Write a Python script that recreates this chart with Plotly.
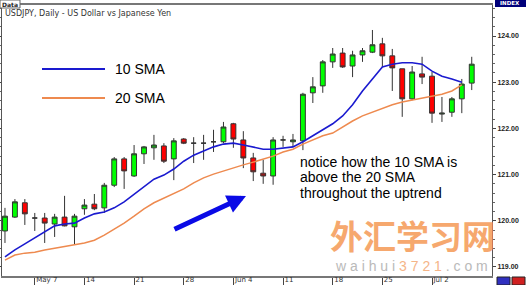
import plotly.graph_objects as go
import pandas as pd

# ---------------- data ----------------
dates = pd.bdate_range("2007-05-02", periods=48).strftime("%Y-%m-%d").tolist()

opens = [119.78, 120.08, 120.39, 120.06, 120.06, 119.93, 120.08, 119.87, 120.26, 120.36,
         120.28, 120.77, 121.34, 120.97, 121.45, 121.58, 121.62, 121.34, 121.77, 121.68,
         121.68, 121.71, 121.71, 122.10, 121.75, 121.36, 121.03, 120.97, 121.75, 121.71,
         121.73, 122.77, 122.92, 123.44, 123.63, 123.35, 123.59, 123.65, 123.83, 123.57,
         123.29, 122.64, 123.18, 123.13, 122.31, 122.35, 122.64, 122.98]
highs = [120.28, 120.47, 120.47, 120.17, 120.17, 120.15, 120.54, 120.15, 120.47, 120.58,
         120.82, 121.38, 121.38, 121.64, 121.62, 121.86, 121.68, 121.79, 121.79, 121.81,
         121.86, 121.97, 122.14, 122.12, 121.94, 121.47, 121.32, 121.81, 121.84, 121.88,
         122.77, 123.11, 123.48, 123.74, 123.74, 123.68, 123.74, 124.13, 123.96, 123.72,
         123.29, 123.35, 123.55, 123.22, 122.68, 122.68, 123.07, 123.55]
lows = [119.52, 120.06, 119.91, 119.78, 119.52, 119.65, 119.88, 119.48, 120.13, 120.23,
        120.17, 120.73, 120.69, 120.95, 121.23, 121.32, 121.25, 120.88, 121.66, 121.25,
        121.32, 121.49, 121.68, 121.58, 121.14, 120.86, 120.80, 120.78, 121.60, 121.60,
        121.53, 122.55, 122.77, 123.31, 123.31, 123.11, 123.44, 123.63, 123.33, 122.81,
        122.25, 122.61, 122.96, 122.12, 122.14, 122.25, 122.33, 122.83]
closes = [120.10, 120.41, 120.15, 120.06, 119.95, 120.08, 119.89, 120.10, 120.34, 120.26,
          120.77, 121.34, 121.08, 121.45, 121.60, 121.64, 121.29, 121.73, 121.68, 121.68,
          121.68, 121.71, 122.03, 121.77, 121.36, 121.06, 120.97, 121.75, 121.75, 121.75,
          122.74, 122.90, 123.44, 123.61, 123.33, 123.59, 123.68, 123.81, 123.57, 123.31,
          122.64, 123.22, 123.11, 122.33, 122.33, 122.64, 122.96, 123.39]

sma10 = [119.22, 119.37, 119.50, 119.63, 119.76, 119.89, 119.93, 119.95, 120.06, 120.15,
         120.19, 120.28, 120.41, 120.58, 120.75, 120.90, 120.99, 121.12, 121.29, 121.42,
         121.51, 121.60, 121.66, 121.68, 121.64, 121.60, 121.55, 121.55, 121.58, 121.60,
         121.71, 121.84, 121.97, 122.10, 122.27, 122.51, 122.81, 123.07, 123.33, 123.39,
         123.42, 123.42, 123.39, 123.24, 123.13, 123.07, 123.00, None]
sma20 = [119.15, 119.26, 119.30, 119.32, 119.37, 119.41, 119.45, 119.48, 119.52, 119.58,
         119.69, 119.82, 119.95, 120.10, 120.26, 120.39, 120.49, 120.58, 120.69, 120.82,
         120.93, 121.01, 121.08, 121.14, 121.21, 121.27, 121.34, 121.40, 121.49, 121.55,
         121.66, 121.75, 121.84, 121.90, 122.03, 122.16, 122.27, 122.35, 122.44, 122.51,
         122.57, 122.61, 122.66, 122.70, 122.74, 122.81, 122.94, None]

tick_dates = ["2007-05-07", "2007-05-14", "2007-05-21", "2007-05-28", "2007-06-04",
              "2007-06-11", "2007-06-18", "2007-06-25", "2007-07-02"]
tick_labels = ["May 7", "14", "21", "28", "Jun 4", "11", "18", "25", "Jul 2"]
price_ticks = [119, 120, 121, 122, 123, 124]

BLUE = "#1a1acf"
ORANGE = "#ee8a4f"

fig = go.Figure()
fig.add_trace(go.Candlestick(
    x=dates, open=opens, high=highs, low=lows, close=closes,
    increasing=dict(fillcolor="#00ff00", line=dict(color="#333333", width=1)),
    decreasing=dict(fillcolor="#ff0000", line=dict(color="#333333", width=1)),
    whiskerwidth=0, hoverinfo="skip", showlegend=False,
))
fig.add_trace(go.Scatter(x=dates, y=sma20, mode="lines",
                         line=dict(color=ORANGE, width=1.5), showlegend=False, hoverinfo="skip"))
fig.add_trace(go.Scatter(x=dates, y=sma10, mode="lines",
                         line=dict(color=BLUE, width=1.6), showlegend=False, hoverinfo="skip"))

W, H = 526, 285
L, R, T, B = 2, 34, 5, 9
pw, ph = W - L - R, H - T - B


def px(x):
    return (x - L) / pw


def py(y):
    return (H - B - y) / ph


shapes = [
    dict(type="line", xref="paper", yref="paper", x0=px(42), x1=px(105), y0=py(69), y1=py(69),
         line=dict(color=BLUE, width=2)),
    dict(type="line", xref="paper", yref="paper", x0=px(42), x1=px(105), y0=py(98), y1=py(98),
         line=dict(color=ORANGE, width=2)),
    # INDEX box
    dict(type="rect", xref="paper", yref="paper", x0=px(495), x1=px(526), y0=py(7), y1=py(-3),
         fillcolor="#00007a", line=dict(width=0)),
    # Data box
    dict(type="rect", xref="paper", yref="paper", x0=px(0), x1=px(20), y0=py(8), y1=py(0),
         fillcolor="white", line=dict(color="#666", width=1)),
    # bottom right icons
    dict(type="rect", xref="paper", yref="paper", x0=px(497), x1=px(510), y0=py(285), y1=py(277),
         fillcolor="#3030c0", line=dict(color="#222", width=1)),
    dict(type="rect", xref="paper", yref="paper", x0=px(512), x1=px(525), y0=py(285), y1=py(277),
         fillcolor="#d02020", line=dict(color="#222", width=1)),
]

annotations = [
    dict(xref="paper", yref="paper", x=px(3), y=py(13), text="USDJPY, Daily - US Dollar vs Japanese Yen",
         showarrow=False, xanchor="left", yanchor="middle",
         font=dict(family="DejaVu Sans", size=8, color="#333")),
    dict(xref="paper", yref="paper", x=px(10), y=py(4), text="<b>Data</b>",
         showarrow=False, xanchor="center", yanchor="middle",
         font=dict(family="DejaVu Sans", size=6, color="#222")),
    dict(xref="paper", yref="paper", x=px(510), y=py(3.5), text="<b>INDEX</b>",
         showarrow=False, xanchor="center", yanchor="middle",
         font=dict(family="DejaVu Sans", size=5.5, color="white")),
    dict(xref="paper", yref="paper", x=px(113), y=py(69), text="10 SMA",
         showarrow=False, xanchor="left", yanchor="middle",
         font=dict(family="Liberation Sans", size=14, color="black")),
    dict(xref="paper", yref="paper", x=px(113), y=py(98), text="20 SMA",
         showarrow=False, xanchor="left", yanchor="middle",
         font=dict(family="Liberation Sans", size=14, color="black")),
]
for txt, yy in [("notice how the 10 SMA is", 162), ("above the 20 SMA", 177), ("throughout the uptrend", 193)]:
    annotations.append(dict(xref="paper", yref="paper", x=px(298), y=py(yy), text=txt,
                            showarrow=False, xanchor="left", yanchor="middle",
                            font=dict(family="Liberation Sans", size=14, color="black")))
# arrow
annotations.append(dict(xref="paper", yref="paper", x=px(246), y=py(196), ax=173 - 246, ay=230 - 196,
                        axref="pixel", ayref="pixel", text="", showarrow=True,
                        arrowhead=2, arrowsize=0.75, arrowwidth=5, arrowcolor="#0a0ae6"))
# watermark
annotations.append(dict(xref="paper", yref="paper", x=px(412), y=py(235), text="<b>外汇学习网</b>",
                        showarrow=False, xanchor="center", yanchor="middle", opacity=0.85,
                        font=dict(family="Noto Sans CJK SC", size=33, color="#f59a55")))
annotations.append(dict(xref="paper", yref="paper", x=px(411), y=py(266),
                        text="w a i h u i <span style='color:#f3a36a'>3 7 2 1</span> . c o m",
                        showarrow=False, xanchor="center", yanchor="middle", opacity=0.8,
                        font=dict(family="Liberation Sans", size=14, color="#a9a9a9")))

fig.update_layout(
    width=W, height=H, autosize=False,
    margin=dict(l=L, r=R, t=T, b=B),
    paper_bgcolor="white", plot_bgcolor="white",
    shapes=shapes, annotations=annotations,
    boxgap=0.3, showlegend=False, hovermode=False,
)
fig.update_xaxes(
    type="category", range=[-0.3, 49.04], rangeslider=dict(visible=False), automargin=False,
    tickmode="array", tickvals=tick_dates, ticktext=tick_labels,
    ticks="outside", ticklen=8, tickcolor="#444", ticklabelposition="outside right",
    ticklabelstandoff=-4,
    tickfont=dict(family="DejaVu Sans", size=7, color="#333"),
    showgrid=False, showline=True, linecolor="#777", linewidth=2, mirror=True, zeroline=False,
)
fig.update_yaxes(
    side="right", range=[118.805, 124.671], tickmode="array", tickvals=price_ticks, automargin=False,
    tickformat=".2f", ticks="outside", ticklen=3, tickcolor="#444",
    tickfont=dict(family="Liberation Sans", size=7, color="#222", weight="bold"),
    minor=dict(dtick=0.2, ticks="outside", ticklen=2, tickcolor="#666"),
    showgrid=False, showline=True, linecolor="#555", linewidth=1, mirror="ticks", zeroline=False,
)

fig.write_html("out.html")
